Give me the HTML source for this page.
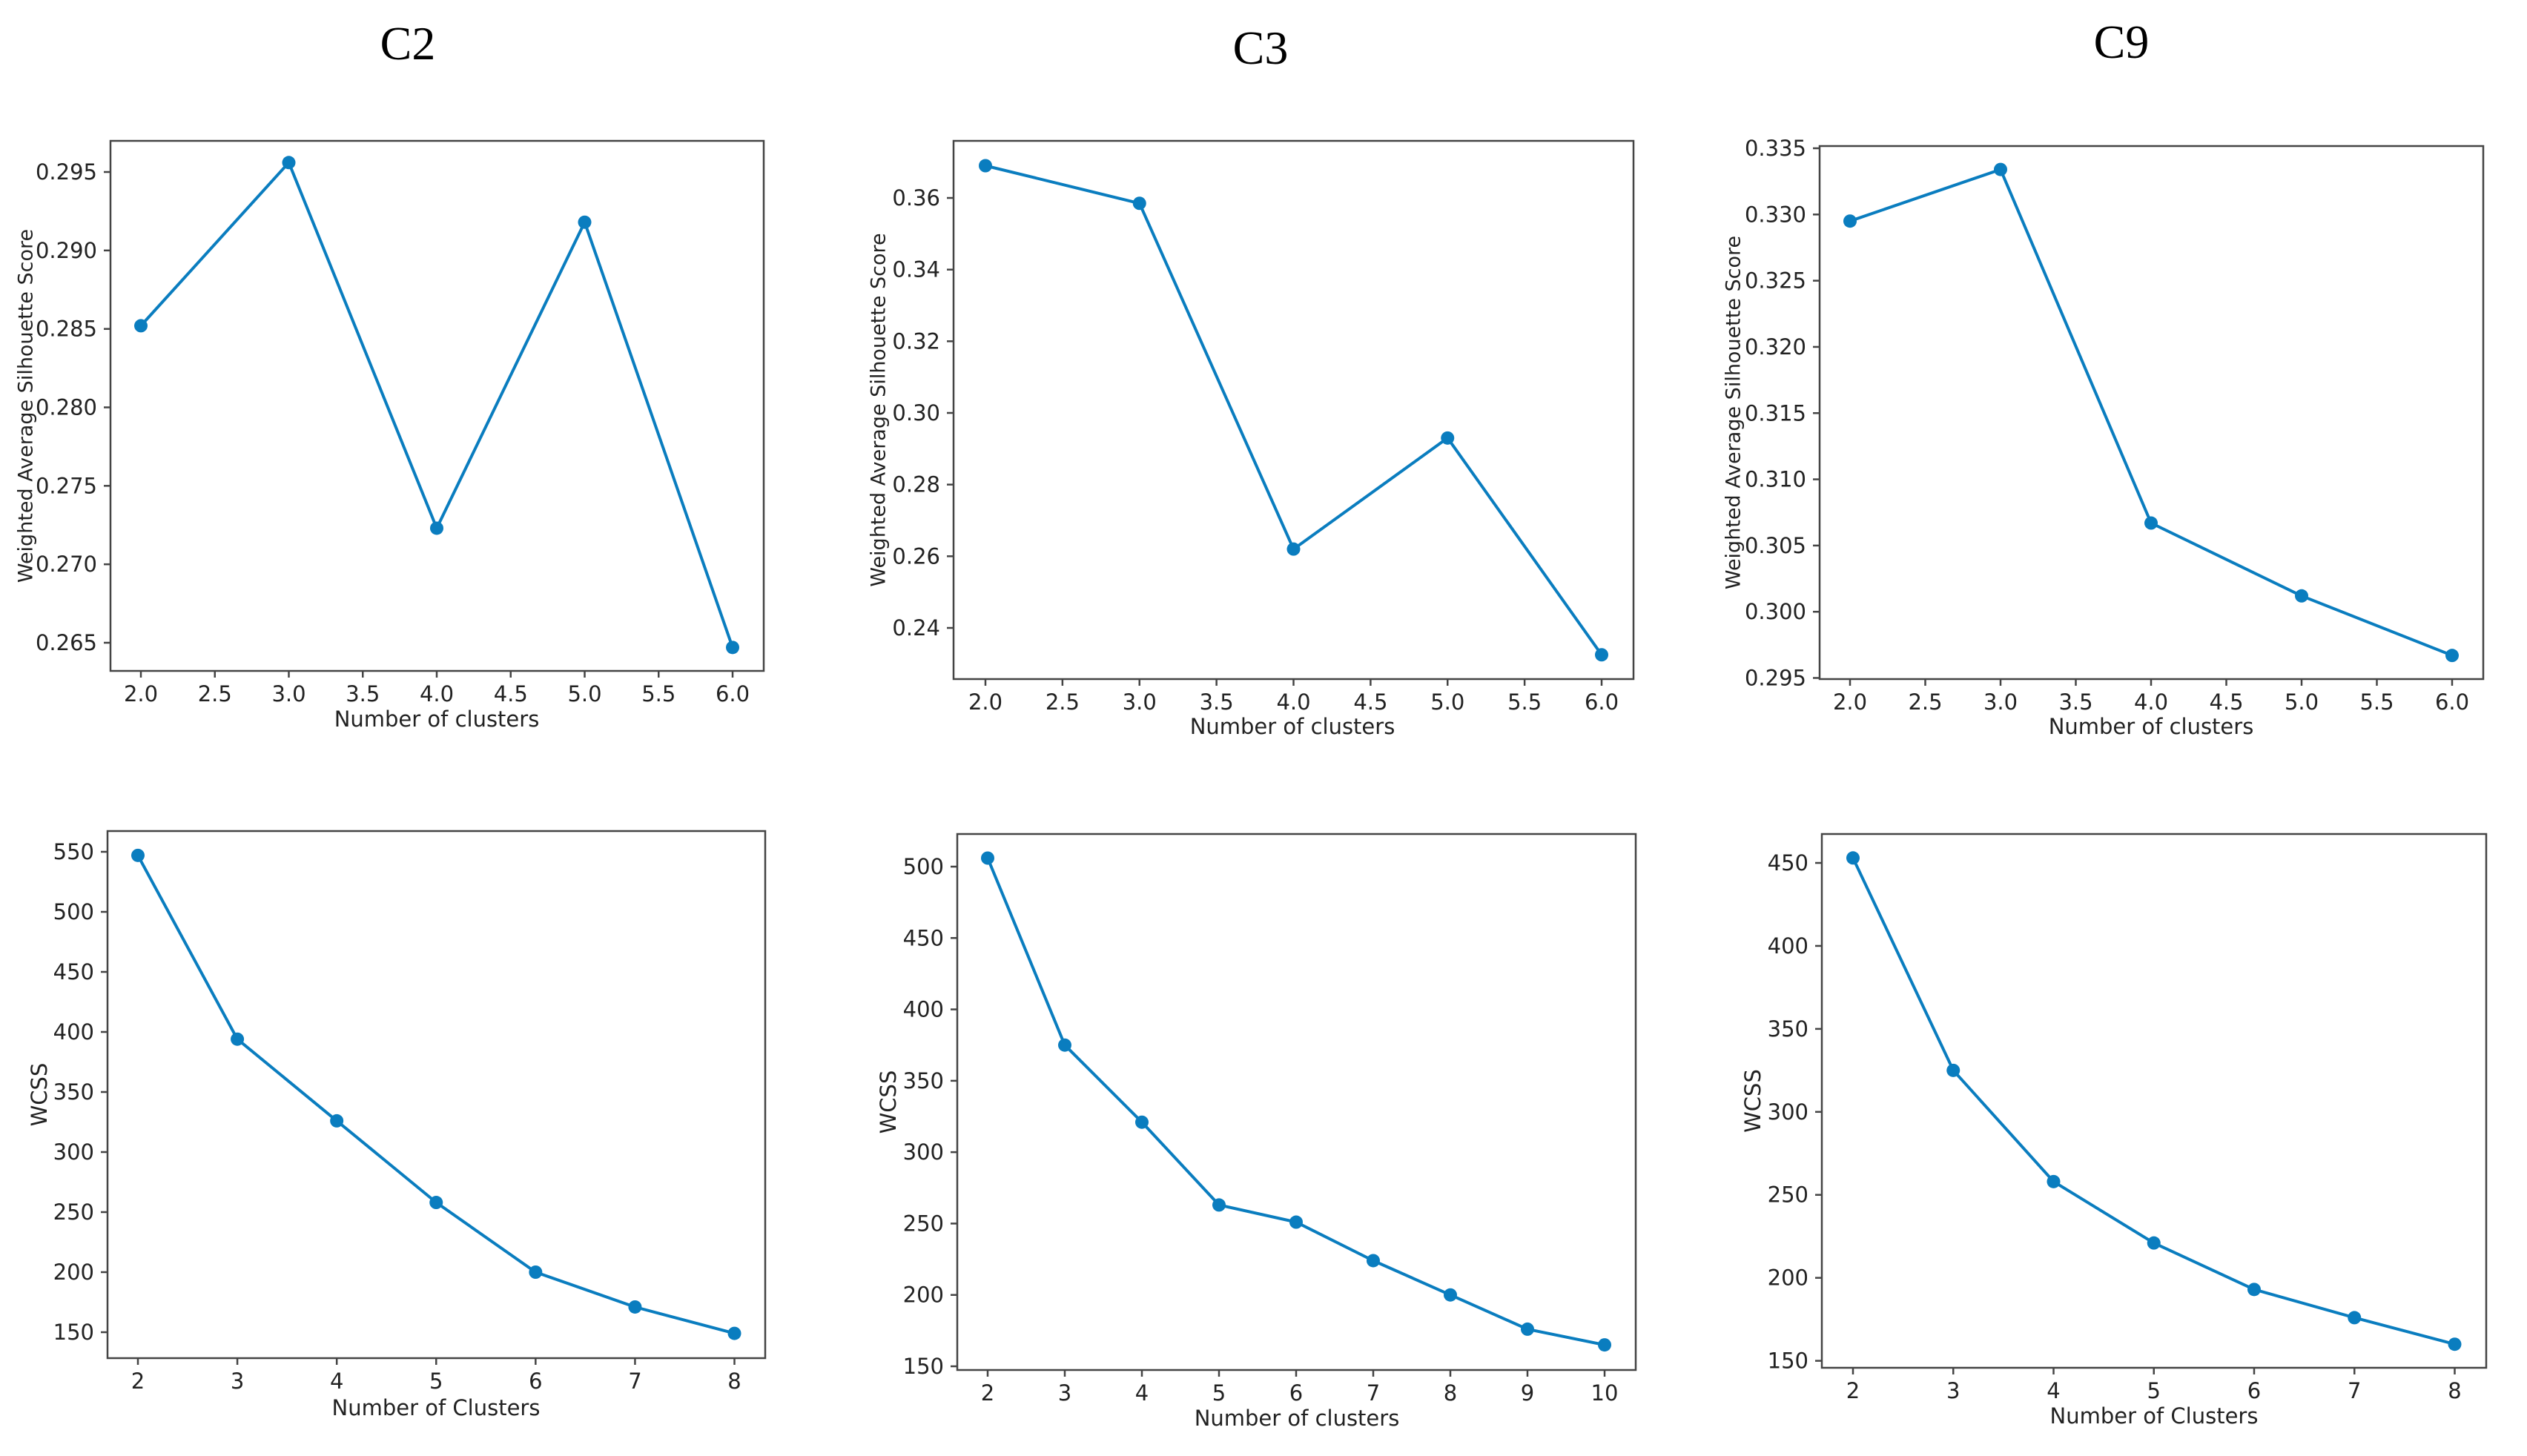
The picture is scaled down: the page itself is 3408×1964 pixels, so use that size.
<!DOCTYPE html>
<html><head><meta charset="utf-8">
<style>
html,body{margin:0;padding:0;background:#fff;}
svg{display:block;}
text{font-family:"DejaVu Sans","Liberation Sans",sans-serif;fill:#222;}
.title{font-family:"Liberation Serif",serif;font-size:64px;fill:#000;}
</style></head>
<body>
<svg id="fig" width="3408" height="1964" viewBox="0 0 3408 1964" xmlns="http://www.w3.org/2000/svg">
<text class="title" x="550" y="80" text-anchor="middle">C2</text>
<text class="title" x="1700" y="86" text-anchor="middle">C3</text>
<text class="title" x="2861" y="78" text-anchor="middle">C9</text>
</svg>
<script>
// ---- data ----
const silX = [2,3,4,5,6];
const silTicksX = [2.0,2.5,3.0,3.5,4.0,4.5,5.0,5.5,6.0];
const c2Sil = [0.2852,0.2956,0.2723,0.2918,0.2647];
const c2SilTicks = [0.265,0.270,0.275,0.280,0.285,0.290,0.295];
const c3Sil = [0.369,0.3585,0.262,0.293,0.2325];
const c3SilTicks = [0.24,0.26,0.28,0.30,0.32,0.34,0.36];
const c9Sil = [0.3295,0.3334,0.3067,0.3012,0.2967];
const c9SilTicks = [0.295,0.300,0.305,0.310,0.315,0.320,0.325,0.330,0.335];
const c2WcssX = [2,3,4,5,6,7,8];
const c2Wcss = [547,394,326,258,200,171,149];
const c2WcssTicks = [150,200,250,300,350,400,450,500,550];
const c3WcssX = [2,3,4,5,6,7,8,9,10];
const c3Wcss = [506,375,321,263,251,224,200,176,165];
const c3WcssTicks = [150,200,250,300,350,400,450,500];
const c9WcssX = [2,3,4,5,6,7,8];
const c9Wcss = [453,325,258,221,193,176,160];
const c9WcssTicks = [150,200,250,300,350,400,450];

const NS = "http://www.w3.org/2000/svg";
const svg = document.getElementById('fig');
function mk(tag, attrs, parent){
  const e = document.createElementNS(NS, tag);
  for (const k in attrs) e.setAttribute(k, attrs[k]);
  (parent||svg).appendChild(e);
  return e;
}
function chart(cfg){
  const g = mk('g', {});
  
  
  const sx = v => cfg.px0 + (v - cfg.vx0) * (cfg.px1 - cfg.px0) / (cfg.vx1 - cfg.vx0);
  const sy = v => cfg.py0 + (v - cfg.vy0) * (cfg.py1 - cfg.py0) / (cfg.vy1 - cfg.vy0);
  const fr = mk('rect', {x:cfg.L, y:cfg.T, width:cfg.R-cfg.L, height:cfg.B-cfg.T, fill:'none', stroke:'#444', 'stroke-width':2.5}, g);
  
  
  cfg.xt.forEach(v => {
    const x = sx(v);
    const t = mk('line', {x1:x, x2:x, y1:cfg.B, y2:cfg.B+9, stroke:'#444', 'stroke-width':2.5}, g);
    
    
    const l = mk('text', {x:x, y:cfg.B+41, 'text-anchor':'middle', 'font-size':29}, g);
    
    
    l.textContent = cfg.xfmt(v);
  });
  cfg.yt.forEach(v => {
    const y = sy(v);
    const t = mk('line', {x1:cfg.L-9, x2:cfg.L, y1:y, y2:y, stroke:'#444', 'stroke-width':2.5}, g);
    
    
    const l = mk('text', {x:cfg.L-18, y:y+10, 'text-anchor':'end', 'font-size':29}, g);
    
    
    l.textContent = cfg.yfmt(v);
  });
  const pts = cfg.xs.map((x,i) => sx(x).toFixed(1)+','+sy(cfg.ys[i]).toFixed(1)).join(' ');
  const pl = mk('polyline', {points:pts, fill:'none', stroke:'#0a7dbf', 'stroke-width':4, 'stroke-linejoin':'round'}, g);
  
  
  cfg.xs.forEach((x,i) => {
    const c = mk('circle', {cx:sx(x), cy:sy(cfg.ys[i]), r:9, fill:'#0a7dbf'}, g);
    
    
  });
  const xl = mk('text', {x:cfg.xlx, y:cfg.xly, 'text-anchor':'middle', 'font-size':29}, g);
  
  
  xl.textContent = cfg.xlabel;
  const cy = (cfg.T+cfg.B)/2;
  const yl = mk('text', {x:cfg.ylx, y:cy, 'text-anchor':'middle', 'font-size':cfg.ylfs||29, transform:'rotate(-90 '+cfg.ylx+' '+cy+')', 'dominant-baseline':'middle'}, g);
  
  
  yl.textContent = cfg.ylabel;
}
const f1 = v => v.toFixed(1), f3 = v => v.toFixed(3), f2 = v => v.toFixed(2), f0 = v => String(v);
const silLabel = 'Weighted Average Silhouette Score';

chart({name:'c2-silhouette-chart', L:149,R:1030,T:190,B:905, px0:190,px1:988,vx0:2,vx1:6, py0:232,py1:867,vy0:0.295,vy1:0.265,
  xt:silTicksX, yt:c2SilTicks, xfmt:f1, yfmt:f3, xs:silX, ys:c2Sil, xlabel:'Number of clusters', xlx:589, xly:980, ylabel:silLabel, ylx:36, ylfs:27});
chart({name:'c3-silhouette-chart', L:1286,R:2203,T:190,B:916, px0:1329,px1:2160,vx0:2,vx1:6, py0:267,py1:847,vy0:0.36,vy1:0.24,
  xt:silTicksX, yt:c3SilTicks, xfmt:f1, yfmt:f2, xs:silX, ys:c3Sil, xlabel:'Number of clusters', xlx:1743, xly:990, ylabel:silLabel, ylx:1186, ylfs:27});
chart({name:'c9-silhouette-chart', L:2454,R:3349,T:197,B:916, px0:2495,px1:3307,vx0:2,vx1:6, py0:200,py1:914.5,vy0:0.335,vy1:0.295,
  xt:silTicksX, yt:c9SilTicks, xfmt:f1, yfmt:f3, xs:silX, ys:c9Sil, xlabel:'Number of clusters', xlx:2901, xly:990, ylabel:silLabel, ylx:2339, ylfs:27});
chart({name:'c2-wcss-chart', L:145,R:1032,T:1121,B:1832, px0:186,px1:990.5,vx0:2,vx1:8, py0:1149,py1:1797,vy0:550,vy1:150,
  xt:c2WcssX, yt:c2WcssTicks, xfmt:f0, yfmt:f0, xs:c2WcssX, ys:c2Wcss, xlabel:'Number of Clusters', xlx:588, xly:1909, ylabel:'WCSS', ylx:55});
chart({name:'c3-wcss-chart', L:1291,R:2206,T:1125,B:1848, px0:1332,px1:2164,vx0:2,vx1:10, py0:1169,py1:1843,vy0:500,vy1:150,
  xt:c3WcssX, yt:c3WcssTicks, xfmt:f0, yfmt:f0, xs:c3WcssX, ys:c3Wcss, xlabel:'Number of clusters', xlx:1749, xly:1923, ylabel:'WCSS', ylx:1200});
chart({name:'c9-wcss-chart', L:2457,R:3353,T:1125,B:1845, px0:2499,px1:3310.5,vx0:2,vx1:8, py0:1164,py1:1835.6,vy0:450,vy1:150,
  xt:c9WcssX, yt:c9WcssTicks, xfmt:f0, yfmt:f0, xs:c9WcssX, ys:c9Wcss, xlabel:'Number of Clusters', xlx:2905, xly:1920, ylabel:'WCSS', ylx:2366});
</script>
</body></html>
